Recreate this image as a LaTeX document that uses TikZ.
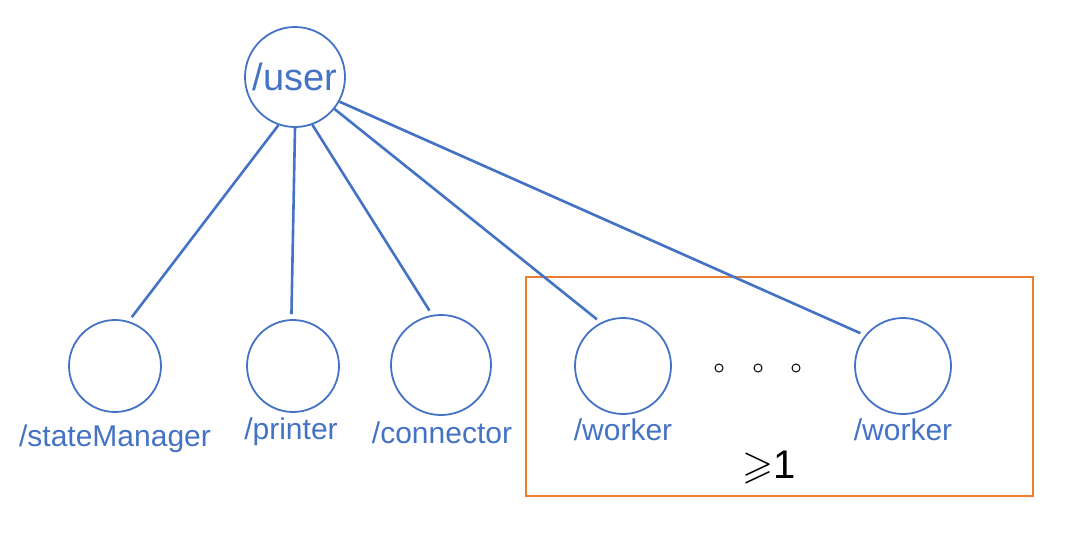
\documentclass[tikz,border=0pt]{standalone}
\usepackage{amssymb}
\usepackage{fontspec}
\setmainfont{Liberation Sans}
\definecolor{nodeblue}{RGB}{68,114,196}
\definecolor{boxorange}{RGB}{237,125,49}

\begin{document}
\begin{tikzpicture}[x=1pt, y=-1pt,
	circ/.style={draw=nodeblue, circle, line width=1.8pt, inner sep=0pt, minimum size=#1},
	circ/.default=94pt,
	lbl/.style={text=nodeblue, font=\fontsize{30}{33}\selectfont, anchor=base},
	link/.style={draw=nodeblue, line width=2.6pt, shorten >=5pt},
	gap/.style={draw, circle, line width=1pt, inner sep=0pt, minimum size=8pt}]
	\useasboundingbox (0,0) rectangle (1084,549);
	% parent
	\node[circ=100pt, text=nodeblue, font=\fontsize{38}{42}\selectfont] (user) at (295,77) {/user};
	% children
	\node[circ=92pt] (sm) at (115,366) {};
	\node[circ=92pt] (pr) at (293,366) {};
	\node[circ=100pt] (co) at (441,365) {};
	\node[circ=96pt] (w1) at (623,366) {};
	\node[circ=96pt] (w2) at (903,366) {};
	\node[lbl] (smlbl) at (115,446) {/stateManager};
	\node[lbl] (prlbl) at (291,439) {/printer};
	\node[lbl] (colbl) at (442,443) {/connector};
	\node[lbl] (w1lbl) at (623,440) {/worker};
	\node[lbl] (w2lbl) at (903,440) {/worker};
	% worker group
	\draw[boxorange, line width=1.8pt] (526,277) rectangle (1033,496);
	\foreach \x/\n in {719/1, 758/2, 796/3}
		\node[gap] (g\n) at (\x,368) {};
	\node[font=\fontsize{40}{44}\selectfont] (count) at (769,467) {$\geqslant$1};
	% connectors
	\draw[link] (user.251) -- (sm.73);
	\draw[link] (user.270) -- (pr.92);
	\draw[link] (user.290) -- (co.100);
	\draw[link] (user.321) -- (w1.117);
	\draw[link] (user.331) -- (w2.141);
\end{tikzpicture}
\end{document}
